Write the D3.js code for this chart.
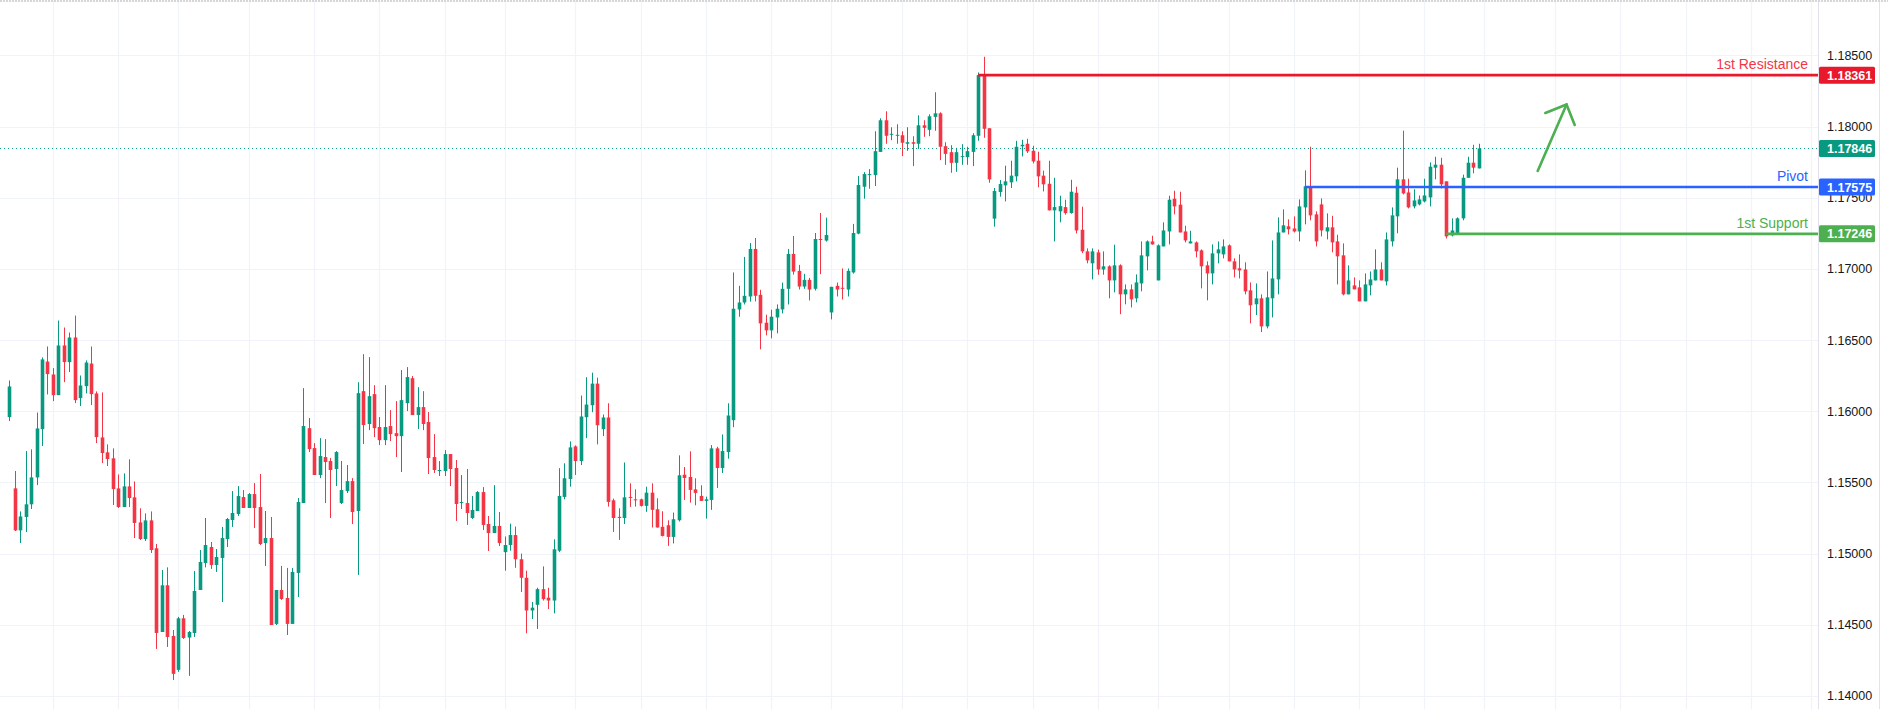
<!DOCTYPE html>
<html><head><meta charset="utf-8">
<script src="https://cdn.jsdelivr.net/npm/d3@7"></script>
<style>html,body{margin:0;padding:0;background:#fff;}svg{display:block;font-family:"Liberation Sans",Arial,sans-serif;}</style>
</head><body><svg id="c" width="1888" height="709"></svg>
<script>
// OHLC, in order
const opens=[1.15959,1.15458,1.15163,1.15257,1.15346,1.15535,1.15874,1.16349,1.16258,1.16113,1.16462,1.16345,1.16518,1.16092,1.16176,1.16335,1.16125,1.15816,1.15711,1.15669,1.15458,1.15327,1.15472,1.15395,1.15219,1.15102,1.15233,1.15037,1.14449,1.14777,1.14421,1.14183,1.14545,1.14410,1.14442,1.14744,1.14934,1.15046,1.14920,1.14969,1.15102,1.15236,1.15278,1.15397,1.15320,1.15418,1.15327,1.15074,1.15109,1.14506,1.14744,1.14688,1.14506,1.14864,1.15355,1.15881,1.15741,1.15552,1.15678,1.15650,1.15594,1.15355,1.15439,1.15509,1.15299,1.16141,1.15910,1.16120,1.15889,1.15797,1.15896,1.15846,1.15825,1.16057,1.16232,1.15973,1.16029,1.15924,1.15678,1.15580,1.15580,1.15699,1.15601,1.15355,1.15355,1.15250,1.15299,1.15432,1.15208,1.15144,1.15194,
1.15010,1.15060,1.15130,1.14960,1.14830,1.14600,1.14640,1.14750,1.14690,1.14670,1.15020,1.15398,1.15524,1.15753,1.15650,1.15958,1.16042,1.16194,1.15874,1.15956,1.15374,1.15258,1.15250,1.15398,1.15381,1.15381,1.15335,1.15428,1.15311,1.15188,1.15199,1.15117,1.15234,1.15554,1.15538,1.15451,1.15405,1.15370,1.15377,1.15739,1.15601,1.15713,1.15937,1.16715,1.16764,1.16806,1.17140,1.16818,1.16622,1.16568,1.16659,1.16715,1.16860,1.17105,1.16986,1.16876,1.16923,1.16860,1.17210,1.17199,1.16694,1.16881,1.16867,1.16855,1.16975,1.17248,1.17577,1.17659,1.17659,1.17822,1.18044,1.17942,1.17935,1.17939,1.17879,1.17890,1.17879,1.18009,1.17977,1.18068,1.18093,1.17862,1.17820,1.17745,1.17785,1.17785,1.17822,1.17935,1.18361,1.17988,1.17353,1.17540,
1.17587,1.17608,1.17650,1.17861,1.17879,1.17830,1.17760,1.17655,1.17598,1.17411,1.17404,1.17434,1.17392,1.17535,1.17275,1.17123,1.17039,1.17116,1.16996,1.17018,1.16919,1.17025,1.16821,1.16856,1.16793,1.16898,1.17088,1.17193,1.16919,1.17158,1.17263,1.17493,1.17451,1.17263,1.17179,1.17186,1.17130,1.17025,1.16968,1.17109,1.17102,1.17165,1.17053,1.17004,1.16996,1.16849,1.16751,1.16793,1.16596,1.16793,1.16926,1.17256,1.17299,1.17284,1.17263,1.17432,1.17580,1.17383,1.17453,1.17263,1.17292,1.17193,1.17095,1.16821,1.16884,1.16870,1.16772,1.16884,1.16919,1.16996,1.16912,1.17193,1.17369,1.17629,1.17537,1.17439,1.17453,1.17474,1.17502,1.17711,1.17732,1.17615,1.17235,1.17249,1.17355,1.17640,1.17746,1.17706];
const closes=[1.16174,1.15163,1.15261,1.15346,1.15535,1.15879,1.16364,1.16261,1.16113,1.16462,1.16345,1.16518,1.16078,1.16181,1.16342,1.16120,1.15818,1.15706,1.15664,1.15453,1.15327,1.15472,1.15390,1.15215,1.15102,1.15233,1.15025,1.14442,1.14777,1.14414,1.14155,1.14545,1.14407,1.14449,1.14737,1.14941,1.15060,1.14920,1.14976,1.15109,1.15243,1.15285,1.15404,1.15320,1.15418,1.15320,1.15067,1.15109,1.14498,1.14744,1.14681,1.14506,1.14871,1.15362,1.15896,1.15734,1.15552,1.15685,1.15643,1.15587,1.15713,1.15446,1.15509,1.15292,1.16127,1.15903,1.16106,1.15881,1.15797,1.15889,1.15839,1.15825,1.16078,1.16240,1.15973,1.16029,1.15910,1.15671,1.15587,1.15587,1.15699,1.15594,1.15348,1.15362,1.15285,1.15306,1.15432,1.15201,1.15144,1.15194,1.15074,
1.15060,1.15130,1.14960,1.14830,1.14600,1.14620,1.14750,1.14680,1.14670,1.15030,1.15405,1.15529,1.15746,1.15650,1.15963,1.16047,1.16194,1.15902,1.15956,1.15363,1.15250,1.15250,1.15395,1.15391,1.15374,1.15335,1.15428,1.15307,1.15183,1.15124,1.15117,1.15241,1.15550,1.15531,1.15447,1.15426,1.15370,1.15381,1.15739,1.15601,1.15720,1.15970,1.16720,1.16764,1.16811,1.17140,1.16811,1.16617,1.16568,1.16664,1.16720,1.16860,1.17105,1.16981,1.16876,1.16923,1.16855,1.17210,1.17203,1.17238,1.16874,1.16855,1.16860,1.16986,1.17252,1.17589,1.17666,1.17666,1.17827,1.18044,1.17935,1.17949,1.17942,1.17886,1.17890,1.17879,1.18009,1.17991,1.18072,1.18093,1.17858,1.17808,1.17745,1.17820,1.17792,1.17827,1.17939,1.18361,1.17984,1.17629,1.17547,1.17596,
1.17615,1.17655,1.17858,1.17872,1.17826,1.17755,1.17650,1.17594,1.17411,1.17434,1.17441,1.17392,1.17542,1.17270,1.17123,1.17060,1.17123,1.16996,1.17018,1.16919,1.17025,1.16821,1.16856,1.16786,1.16905,1.17095,1.17193,1.17172,1.17165,1.17270,1.17486,1.17439,1.17256,1.17200,1.17193,1.17123,1.17018,1.16968,1.17109,1.17137,1.17158,1.17053,1.16996,1.16989,1.16842,1.16744,1.16793,1.16596,1.16800,1.16933,1.17256,1.17306,1.17278,1.17263,1.17439,1.17580,1.17376,1.17193,1.17270,1.17292,1.17186,1.17088,1.16821,1.16919,1.16856,1.16772,1.16891,1.16926,1.16996,1.16919,1.17207,1.17376,1.17629,1.17530,1.17432,1.17481,1.17488,1.17516,1.17718,1.17732,1.17594,1.17228,1.17270,1.17355,1.17640,1.17746,1.17711,1.17846];
const highs=[1.16216,1.15580,1.15296,1.15720,1.15732,1.15991,1.16378,1.16455,1.16303,1.16637,1.16588,1.16553,1.16672,1.16251,1.16357,1.16455,1.16139,1.16132,1.15767,1.15739,1.15556,1.15563,1.15662,1.15507,1.15318,1.15282,1.15296,1.15067,1.14885,1.14903,1.14463,1.14555,1.14569,1.14456,1.14878,1.15025,1.15250,1.15081,1.15032,1.15187,1.15250,1.15439,1.15474,1.15446,1.15425,1.15495,1.15559,1.15299,1.15257,1.14744,1.14913,1.14899,1.14899,1.15390,1.16162,1.15952,1.15776,1.15811,1.15804,1.15671,1.15720,1.15650,1.15622,1.15530,1.16204,1.16401,1.16380,1.16183,1.15959,1.16183,1.16008,1.16071,1.16289,1.16310,1.16247,1.16169,1.16141,1.15994,1.15839,1.15650,1.15727,1.15699,1.15657,1.15552,1.15594,1.15404,1.15439,1.15467,1.15264,1.15481,1.15292,
1.15120,1.15210,1.15190,1.15000,1.14880,1.14660,1.14760,1.14910,1.14760,1.15100,1.15600,1.15634,1.15788,1.15760,1.16110,1.16239,1.16271,1.16236,1.15977,1.16056,1.15386,1.15318,1.15640,1.15493,1.15451,1.15386,1.15470,1.15493,1.15388,1.15297,1.15234,1.15288,1.15690,1.15608,1.15718,1.15529,1.15480,1.15400,1.15762,1.15750,1.15837,1.16056,1.16975,1.16881,1.17084,1.17182,1.17217,1.16853,1.16678,1.16713,1.16750,1.16904,1.17140,1.17231,1.17028,1.16965,1.16937,1.17252,1.17393,1.17360,1.16874,1.16904,1.17003,1.17003,1.17316,1.17652,1.17680,1.17701,1.17967,1.18058,1.18107,1.17995,1.18016,1.17967,1.17995,1.17932,1.18079,1.18044,1.18086,1.18241,1.18100,1.17890,1.17869,1.17850,1.17876,1.17858,1.17953,1.18380,1.18490,1.17988,1.17568,1.17624,
1.17725,1.17760,1.17900,1.17907,1.17914,1.17865,1.17823,1.17690,1.17760,1.17640,1.17514,1.17486,1.17626,1.17577,1.17437,1.17144,1.17144,1.17135,1.17123,1.17025,1.17170,1.17032,1.16891,1.16891,1.16961,1.17193,1.17200,1.17233,1.17172,1.17327,1.17514,1.17549,1.17542,1.17303,1.17268,1.17193,1.17137,1.17053,1.17172,1.17193,1.17207,1.17172,1.17074,1.17102,1.17046,1.16905,1.16898,1.16821,1.16982,1.17200,1.17362,1.17418,1.17348,1.17369,1.17488,1.17692,1.17858,1.17404,1.17495,1.17390,1.17373,1.17240,1.17179,1.17025,1.16940,1.16919,1.16968,1.16982,1.17137,1.17046,1.17256,1.17432,1.17711,1.17971,1.17633,1.17559,1.17516,1.17633,1.17748,1.17788,1.17781,1.17615,1.17355,1.17362,1.17662,1.17788,1.17872,1.17879];
const lows=[1.15931,1.15158,1.15074,1.15151,1.15313,1.15481,1.15755,1.16118,1.16071,1.16113,1.16204,1.16275,1.16057,1.16036,1.16125,1.16043,1.15776,1.15636,1.15615,1.15341,1.15320,1.15327,1.15327,1.15109,1.15095,1.15088,1.15004,1.14330,1.14449,1.14344,1.14112,1.14169,1.14400,1.14141,1.14414,1.14744,1.14903,1.14892,1.14871,1.14660,1.15046,1.15187,1.15264,1.15320,1.15320,1.15180,1.15060,1.14913,1.14498,1.14498,1.14674,1.14428,1.14506,1.14695,1.15355,1.15713,1.15552,1.15530,1.15355,1.15250,1.15474,1.15348,1.15425,1.15208,1.14850,1.15769,1.15867,1.15818,1.15762,1.15762,1.15790,1.15678,1.15573,1.16001,1.15973,1.15874,1.15867,1.15559,1.15566,1.15545,1.15545,1.15474,1.15229,1.15313,1.15201,1.15243,1.15299,1.15165,1.15018,1.15144,1.15053,
1.14880,1.15020,1.14900,1.14730,1.14440,1.14540,1.14470,1.14670,1.14610,1.14580,1.15010,1.15381,1.15470,1.15552,1.15622,1.15811,1.15993,1.15767,1.15825,1.15330,1.15152,1.15096,1.15208,1.15328,1.15330,1.15330,1.15293,1.15183,1.15183,1.15120,1.15054,1.15071,1.15225,1.15377,1.15358,1.15339,1.15370,1.15246,1.15307,1.15461,1.15566,1.15666,1.15888,1.16664,1.16750,1.16770,1.16771,1.16435,1.16533,1.16512,1.16547,1.16687,1.16750,1.16960,1.16855,1.16860,1.16778,1.16848,1.16963,1.17192,1.16645,1.16806,1.16785,1.16806,1.16967,1.17243,1.17493,1.17563,1.17582,1.17822,1.17879,1.17904,1.17879,1.17792,1.17829,1.17722,1.17843,1.17928,1.17932,1.17970,1.17764,1.17731,1.17675,1.17682,1.17731,1.17731,1.17722,1.17900,1.17921,1.17605,1.17297,1.17507,
1.17474,1.17568,1.17615,1.17790,1.17814,1.17741,1.17573,1.17544,1.17411,1.17193,1.17327,1.17381,1.17388,1.17249,1.17111,1.17039,1.16926,1.16959,1.16959,1.16793,1.16835,1.16682,1.16751,1.16729,1.16765,1.16842,1.16989,1.17170,1.16919,1.17158,1.17172,1.17383,1.17256,1.17186,1.17179,1.17081,1.16863,1.16779,1.16891,1.17039,1.17074,1.17053,1.16940,1.16933,1.16821,1.16617,1.16676,1.16556,1.16582,1.16659,1.16821,1.17256,1.17242,1.17256,1.17193,1.17313,1.17341,1.17158,1.17228,1.17207,1.17116,1.16891,1.16814,1.16821,1.16856,1.16772,1.16772,1.16814,1.16919,1.16919,1.16884,1.17158,1.17250,1.17523,1.17425,1.17425,1.17446,1.17467,1.17439,1.17629,1.17565,1.17214,1.17228,1.17242,1.17341,1.17640,1.17671,1.17706];
const yTicks=[1.14,1.145,1.15,1.155,1.16,1.165,1.17,1.175,1.18,1.185];
const gridIdx=[8,20,31,44,56,68,80,91,104,116,128,140,151,164,176,188,200,211,224,236,248,260,271,284,296,308,320,331];
const levelNames=["1st Resistance","Pivot","1st Support"];
const levelValues=[1.18361,1.17575,1.17246];
const levelStart=[178,238,264];
const levelColors=["#e8192c","#2962ff","#4caf50"];
const lastPrice=1.17846;
const arrowX=[280.8,286.1,282.2,287.6];
const arrowY=[1.17688,1.18155,1.18095,1.18011];

const svg=d3.select("#c");
const W=1888,H=709,plotR=1818;
const x=d3.scaleLinear().domain([0,1]).range([9.3,14.743]);
const y=d3.scaleLinear().domain([1.13908,1.18889]).range([H,0]);
const up="#089981",dn="#f23645";

svg.append("rect").attr("width",W).attr("height",H).attr("fill","#fff");
const g=svg.append("g");
g.selectAll(".hg").data(yTicks).join("line").attr("x1",0).attr("x2",plotR).attr("y1",d=>Math.round(y(d))+.5).attr("y2",d=>Math.round(y(d))+.5).attr("stroke","#f0f3fa").attr("stroke-width",1.2);
g.selectAll(".vg").data(gridIdx).join("line").attr("x1",d=>Math.round(x(d))+.5).attr("x2",d=>Math.round(x(d))+.5).attr("y1",0).attr("y2",H).attr("stroke","#f0f3fa").attr("stroke-width",1.2);
svg.append("line").attr("x1",0).attr("x2",W).attr("y1",1).attr("y2",1).attr("stroke","#d6d6d6").attr("stroke-width",2).attr("stroke-dasharray","2,1");
svg.append("line").attr("x1",plotR+.5).attr("x2",plotR+.5).attr("y1",2).attr("y2",H).attr("stroke","#e0e3eb");
svg.append("line").attr("x1",1879.5).attr("x2",1879.5).attr("y1",2).attr("y2",H).attr("stroke","#e0e3eb");

svg.append("line").attr("x1",0).attr("x2",plotR).attr("y1",y(lastPrice)).attr("y2",y(lastPrice)).attr("stroke",up).attr("stroke-width",1).attr("stroke-dasharray","1,3");

const idx=d3.range(opens.length);
const cg=svg.append("g");
cg.selectAll(".w").data(idx).join("line").attr("x1",i=>Math.round(x(i))+.5).attr("x2",i=>Math.round(x(i))+.5).attr("y1",i=>y(highs[i])).attr("y2",i=>y(lows[i])).attr("stroke",i=>closes[i]>=opens[i]?up:dn).attr("stroke-width",1);
cg.selectAll(".b").data(idx).join("rect").attr("x",i=>Math.round(x(i))+.5-1.8).attr("width",3.6).attr("y",i=>y(Math.max(opens[i],closes[i]))).attr("height",i=>Math.max(1,Math.abs(y(opens[i])-y(closes[i])))).attr("fill",i=>closes[i]>=opens[i]?up:dn);

levelValues.forEach((v,k)=>{
  svg.append("line").attr("x1",x(levelStart[k])).attr("x2",plotR).attr("y1",y(v)).attr("y2",y(v)).attr("stroke",levelColors[k]).attr("stroke-width",2.6);
  svg.append("text").attr("x",1808).attr("y",y(v)-6).attr("text-anchor","end").attr("font-size",14).attr("fill",k==0?"#f23645":levelColors[k]).text(levelNames[k]);
});

const ag=svg.append("g").attr("stroke","#4caf50").attr("stroke-width",2.6).attr("fill","none").attr("stroke-linecap","round");
ag.append("line").attr("x1",x(arrowX[0])).attr("y1",y(arrowY[0])).attr("x2",x(arrowX[1])).attr("y2",y(arrowY[1]));
ag.append("polyline").attr("points",[[x(arrowX[2]),y(arrowY[2])],[x(arrowX[1]),y(arrowY[1])],[x(arrowX[3]),y(arrowY[3])]].map(p=>p.join(",")).join(" "));

svg.selectAll(".tk").data(yTicks).join("text").attr("x",1827).attr("y",d=>y(d)+4.5).attr("font-size",12.5).attr("fill","#131722").text(d=>d.toFixed(5));

const boxes=[[levelValues[0],levelColors[0]],[lastPrice,up],[levelValues[1],levelColors[1]],[levelValues[2],levelColors[2]]];
boxes.forEach(([v,c])=>{
  svg.append("rect").attr("x",plotR+1).attr("y",y(v)-8.5).attr("width",56).attr("height",17).attr("rx",1.5).attr("fill",c);
  svg.append("text").attr("x",1827).attr("y",y(v)+4.5).attr("font-size",12.5).attr("font-weight","bold").attr("fill","#fff").text(v.toFixed(5));
});
</script></body></html>
